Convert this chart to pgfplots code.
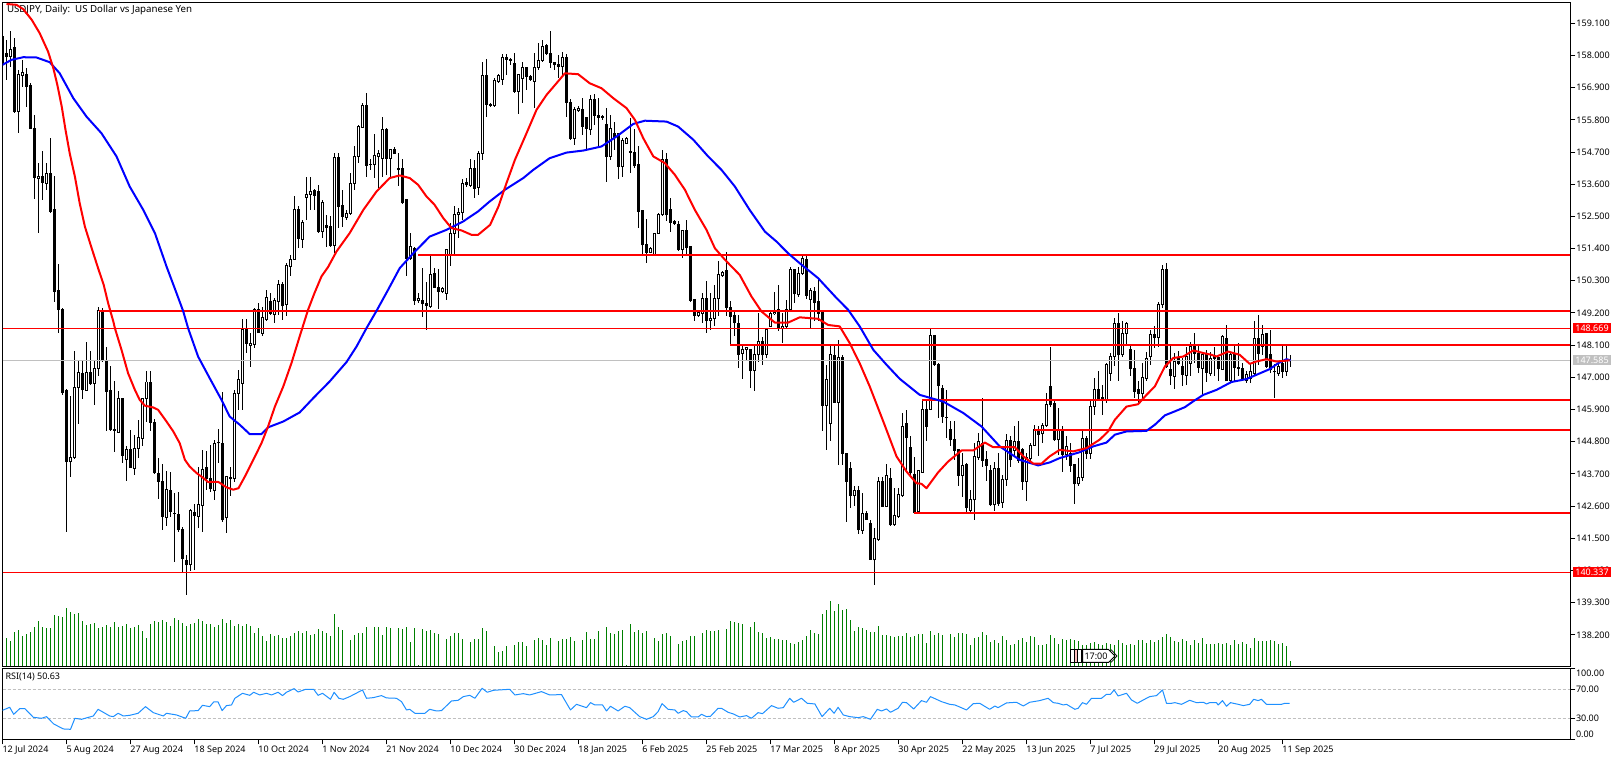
\documentclass[border=0pt]{standalone}
\usepackage{pgfplots}
\usepackage{pgfplotstable}
\usepackage{fontspec}
\setmainfont{Noto Sans}
\pgfplotsset{compat=1.18}
\definecolor{mtgreen}{HTML}{008000}
\definecolor{mtgrey}{HTML}{C0C0C0}
\definecolor{mtrsi}{HTML}{1E90FF}
\pgfplotstableread{
i o h l c
0 158.65 158.70 157.68 157.74
1 158.05 158.53 157.17 157.96
2 157.96 158.82 157.62 158.21
3 158.28 158.59 156.03 156.08
4 156.08 157.51 155.34 157.34
5 157.31 157.85 156.92 157.43
6 157.34 157.57 156.25 156.94
7 156.96 157.05 155.51 155.51
8 155.51 155.97 153.09 153.84
9 153.79 154.32 151.93 153.88
10 153.88 154.74 153.07 153.66
11 153.64 154.32 153.41 153.98
12 153.98 155.17 152.61 152.67
13 152.72 153.88 149.59 149.93
14 149.96 150.87 148.51 149.33
15 149.31 149.36 146.40 146.48
16 146.54 146.60 141.70 144.12
17 144.12 146.37 143.61 144.27
18 144.26 147.91 144.20 146.66
19 146.65 147.56 145.41 147.18
20 147.12 147.56 146.27 146.57
21 146.55 148.21 146.52 147.18
22 147.18 147.91 146.74 146.78
23 146.80 147.60 146.06 147.31
24 147.31 149.40 147.03 149.27
25 149.27 149.36 147.54 147.56
26 147.56 148.05 145.18 146.52
27 146.54 147.37 145.18 145.21
28 145.21 146.88 144.45 145.19
29 145.13 146.54 145.09 146.27
30 146.27 146.27 144.07 144.34
31 144.20 144.66 143.44 144.52
32 144.52 145.21 143.90 143.93
33 143.90 145.04 143.67 144.58
34 144.58 145.55 144.24 144.96
35 144.92 146.29 144.64 146.27
36 146.27 147.20 145.46 146.84
37 146.84 147.22 145.15 145.46
38 145.47 145.57 143.70 143.73
39 143.73 144.24 142.85 143.44
40 143.43 144.05 141.77 142.24
41 142.22 143.81 141.93 143.16
42 143.12 143.77 142.22 142.42
43 142.36 143.04 140.70 142.34
44 142.30 143.07 141.73 141.79
45 141.79 141.88 140.31 140.82
46 140.73 140.94 139.57 140.59
47 140.59 142.51 140.37 142.44
48 142.39 142.68 140.42 142.27
49 142.25 143.95 141.85 142.64
50 142.62 144.52 141.73 143.84
51 143.93 144.49 143.16 143.55
52 143.53 144.69 143.07 143.19
53 143.13 144.87 142.81 144.75
54 144.78 145.23 144.07 144.76
55 144.75 146.49 142.07 142.13
56 142.20 143.61 141.67 143.61
57 143.56 143.95 142.96 143.54
58 143.54 146.55 143.41 146.46
59 146.46 147.26 145.89 146.92
60 146.80 149.00 145.89 148.62
61 148.66 149.00 147.83 148.17
62 148.09 148.51 147.34 148.17
63 148.13 149.36 148.00 149.31
64 149.31 149.53 148.51 148.53
65 148.51 149.42 148.40 149.06
66 148.97 149.99 148.91 149.74
67 149.59 149.87 149.14 149.19
68 149.14 149.71 148.85 149.63
69 149.59 150.33 149.14 150.18
70 150.18 150.27 148.97 149.44
71 149.48 150.90 149.08 150.81
72 150.79 151.19 150.47 151.04
73 151.04 153.18 151.02 152.72
74 152.72 152.84 151.41 151.76
75 151.72 152.38 151.41 152.30
76 153.16 153.86 152.38 153.26
77 153.25 153.86 152.72 153.34
78 153.38 153.43 152.72 153.22
79 153.35 153.58 151.93 151.98
80 151.98 153.07 151.76 152.99
81 152.18 152.55 151.47 152.12
82 152.15 152.50 151.47 151.51
83 151.51 154.68 151.24 154.52
84 154.52 154.68 152.10 152.84
85 152.86 153.41 152.15 152.50
86 152.46 152.72 152.38 152.61
87 152.61 153.98 152.55 153.64
88 153.64 154.89 153.41 154.55
89 154.55 155.63 154.32 155.57
90 155.55 156.39 155.51 156.28
91 156.28 156.71 153.83 154.24
92 154.29 154.46 154.09 154.27
93 154.28 155.32 153.81 154.57
94 154.55 154.77 153.46 154.66
95 154.48 155.89 153.86 155.46
96 155.46 155.51 153.90 154.49
97 154.49 154.80 153.86 154.80
98 154.80 154.87 154.64 154.66
99 154.12 154.66 153.54 154.10
100 154.12 154.46 152.93 152.97
101 153.07 153.07 150.45 151.05
102 151.07 151.93 151.02 151.47
103 151.41 151.47 149.46 149.61
104 149.61 149.88 149.54 149.71
105 149.61 150.73 149.05 149.51
106 149.53 150.25 148.62 149.46
107 149.42 151.16 149.36 150.50
108 150.54 150.73 150.05 150.07
109 150.08 150.70 149.34 149.93
110 149.93 150.10 149.88 150.04
111 149.88 151.36 149.65 151.36
112 151.19 152.27 150.79 151.93
113 151.93 152.84 151.19 152.58
114 152.58 152.78 151.76 152.64
115 152.63 153.77 152.38 153.64
116 153.66 153.81 153.49 153.58
117 153.56 154.46 153.52 154.12
118 154.12 154.43 153.12 153.46
119 153.49 154.75 153.24 154.66
120 154.66 157.79 154.41 157.30
121 157.30 157.87 155.91 156.33
122 156.32 156.37 156.25 156.30
123 156.28 157.22 156.25 157.13
124 157.11 157.36 157.05 157.30
125 157.19 158.04 157.00 157.94
126 157.94 158.04 157.34 157.87
127 157.86 157.91 157.68 157.84
128 157.71 158.08 156.71 156.77
129 156.77 157.34 155.99 157.34
130 157.22 157.79 156.39 157.60
131 157.60 157.62 156.82 157.28
132 157.28 157.34 157.11 157.19
133 157.11 158.08 156.20 157.60
134 157.59 158.42 157.51 157.83
135 157.83 158.53 157.79 158.31
136 158.33 158.40 158.02 158.08
137 158.08 158.84 157.57 157.76
138 157.77 157.79 157.51 157.68
139 157.70 158.02 157.22 157.62
140 157.62 158.13 157.28 157.94
141 157.94 158.04 155.91 156.39
142 156.40 156.52 155.12 155.15
143 155.17 156.25 154.94 156.14
144 156.11 156.28 156.06 156.20
145 156.16 156.54 155.29 155.57
146 155.89 155.91 154.77 155.51
147 155.46 156.65 155.29 156.51
148 156.51 156.69 155.63 155.95
149 155.95 156.54 154.89 155.88
150 155.90 155.97 155.80 155.88
151 155.63 156.20 153.69 154.55
152 154.55 155.97 154.43 155.49
153 155.34 155.74 154.77 155.21
154 155.34 155.34 153.77 154.20
155 154.20 155.17 153.84 155.08
156 155.00 155.23 154.98 155.15
157 154.72 155.86 153.98 154.70
158 154.69 155.48 154.15 154.23
159 154.26 154.89 152.10 152.67
160 152.69 152.69 151.19 151.53
161 151.53 152.40 150.90 151.27
162 151.27 151.47 151.24 151.40
163 151.19 151.93 151.15 151.93
164 151.93 152.61 151.90 152.55
165 152.55 154.77 152.50 154.43
166 154.43 154.66 152.33 152.55
167 152.72 153.12 151.98 152.30
168 152.33 152.38 152.21 152.27
169 152.23 152.33 151.30 151.36
170 151.36 152.04 151.07 152.01
171 152.01 152.38 151.19 151.44
172 151.47 151.47 149.59 149.63
173 149.65 149.65 148.91 149.11
174 149.11 149.31 149.08 149.23
175 149.19 149.88 148.85 149.71
176 149.71 150.30 148.51 148.94
177 148.94 149.88 148.62 149.02
178 149.02 150.16 148.74 149.68
179 149.68 150.98 149.08 150.50
180 150.47 150.62 150.45 150.59
181 150.65 151.28 149.08 149.39
182 149.39 149.61 148.11 149.08
183 149.10 149.31 148.40 148.87
184 148.85 149.14 147.31 147.79
185 147.83 148.11 146.94 147.96
186 147.96 148.05 147.60 148.03
187 147.94 147.96 146.63 147.23
188 147.23 148.11 146.52 147.77
189 147.77 149.19 147.54 148.23
190 148.23 148.37 147.43 147.77
191 147.79 148.68 147.66 148.62
192 148.74 149.31 148.71 149.19
193 149.17 149.93 149.14 149.23
194 149.31 150.16 148.57 148.68
195 148.68 149.19 148.17 148.75
196 148.74 149.65 148.68 149.31
197 149.31 150.77 149.31 150.70
198 150.67 150.70 149.53 149.85
199 149.82 150.77 149.76 150.56
200 150.56 151.15 150.50 151.07
201 151.02 151.19 149.67 149.79
202 149.67 150.05 148.68 149.96
203 149.93 150.10 148.93 149.56
204 149.59 150.39 148.91 149.19
205 149.25 149.25 145.17 146.03
206 146.03 147.43 144.52 146.92
207 145.41 148.11 144.81 147.77
208 147.74 148.11 146.14 146.15
209 146.15 148.28 143.99 147.68
210 147.69 147.77 144.01 144.41
211 144.41 144.41 142.07 143.44
212 143.90 144.10 142.55 142.96
213 142.96 143.27 142.59 143.13
214 143.13 143.27 141.65 141.79
215 141.77 143.04 141.65 142.36
216 142.36 142.42 142.13 142.15
217 142.02 142.13 140.76 140.79
218 140.76 141.85 139.89 141.50
219 141.45 143.59 141.39 143.44
220 143.44 143.61 142.59 142.59
221 142.59 144.03 142.59 143.65
222 143.55 143.90 141.92 141.96
223 141.96 143.21 141.94 142.27
224 142.25 143.21 142.19 143.01
225 142.96 145.78 142.92 145.32
226 145.41 145.89 143.73 144.95
227 144.61 144.98 143.67 143.73
228 143.69 144.26 142.36 142.38
229 142.42 143.84 142.36 143.82
230 143.76 146.23 143.73 145.91
231 145.91 146.23 144.81 145.32
232 145.91 148.66 145.89 148.44
233 148.44 148.45 147.37 147.43
234 147.43 147.48 145.60 146.72
235 146.63 146.74 145.43 145.66
236 145.64 146.57 144.92 145.62
237 145.21 145.49 144.64 144.86
238 144.86 145.49 144.18 144.50
239 144.52 144.55 143.27 143.65
240 143.65 144.41 142.92 144.00
241 144.01 144.07 142.38 142.55
242 142.44 143.16 142.36 142.84
243 142.81 144.75 142.13 144.30
244 144.27 145.09 144.18 144.81
245 144.75 146.29 143.95 144.16
246 144.18 144.47 143.44 143.98
247 143.82 144.01 142.59 142.64
248 142.64 144.12 142.42 143.89
249 143.90 144.41 142.59 142.68
250 142.72 143.67 142.53 143.52
251 143.50 145.07 143.27 144.84
252 144.84 144.98 143.95 144.18
253 144.50 145.32 144.30 144.81
254 144.81 145.49 144.07 144.15
255 144.52 144.58 143.16 143.44
256 143.44 144.41 142.79 144.26
257 144.24 144.75 144.07 144.67
258 144.67 145.38 144.64 145.21
259 145.21 145.32 144.30 145.06
260 145.07 145.43 144.75 145.35
261 145.35 146.46 145.32 146.06
262 146.69 148.03 146.00 146.06
263 146.09 146.23 144.81 144.86
264 144.86 145.94 144.35 145.21
265 145.15 145.32 143.75 144.35
266 144.35 144.98 144.18 144.64
267 144.39 144.75 143.78 143.98
268 144.01 144.01 142.68 143.36
269 143.36 144.24 143.29 143.59
270 143.59 145.18 143.44 144.92
271 144.92 144.98 144.20 144.39
272 144.41 146.23 144.20 146.00
273 146.00 146.97 145.72 146.57
274 146.57 147.20 146.23 146.25
275 146.32 146.74 145.72 146.23
276 146.23 147.48 146.12 147.43
277 147.14 147.83 146.89 147.71
278 147.71 149.04 147.37 148.85
279 148.83 149.19 146.89 147.77
280 147.77 148.94 147.71 148.51
281 148.51 148.89 148.14 148.83
282 147.94 148.11 147.05 147.31
283 147.29 147.94 146.29 146.52
284 146.57 146.86 146.06 146.44
285 146.44 147.48 146.29 147.01
286 146.97 147.88 146.86 147.66
287 147.71 148.60 147.43 148.47
288 148.45 148.74 148.00 148.36
289 148.37 149.56 148.05 149.48
290 149.48 150.84 149.36 150.70
291 150.70 150.90 147.31 147.37
292 147.26 148.11 146.74 147.05
293 147.03 147.83 146.60 147.54
294 147.66 147.91 147.43 147.48
295 147.37 147.66 146.69 147.09
296 147.06 148.05 146.74 147.71
297 147.48 148.22 147.05 148.05
298 148.11 148.51 147.48 147.83
299 147.83 148.13 147.14 147.35
300 147.31 147.88 146.40 147.77
301 147.77 147.94 146.84 147.17
302 147.12 147.88 147.05 147.66
303 147.74 148.05 147.03 147.66
304 147.68 147.71 146.86 147.29
305 147.28 148.45 147.26 148.40
306 148.34 148.79 146.86 146.88
307 146.88 147.88 146.86 147.77
308 147.77 148.11 146.86 147.34
309 147.32 148.17 147.03 147.30
310 147.31 147.48 146.86 146.91
311 146.89 147.20 146.80 147.09
312 146.97 147.48 146.80 147.20
313 147.14 148.94 147.05 148.34
314 148.34 149.13 147.43 147.83
315 148.05 148.79 147.77 148.47
316 148.49 148.53 147.31 147.37
317 147.77 148.62 147.14 147.26
318 147.20 147.45 146.31 147.19
319 147.14 147.54 147.03 147.37
320 147.48 148.11 146.97 147.20
321 147.20 148.11 147.05 147.60
322 147.59 147.77 147.34 147.585
}\candles
\pgfplotstableread{
i v
0 30
1 28
2 25
3 34
4 36
5 30
6 32
7 34
8 39
9 45
10 39
11 38
12 38
13 51
14 50
15 49
16 58
17 54
18 52
19 53
20 45
21 41
22 42
23 43
24 38
25 39
26 41
27 39
28 44
29 39
30 40
31 42
32 38
33 39
34 41
35 35
36 28
37 42
38 45
39 44
40 46
41 44
42 40
43 48
44 46
45 43
46 40
47 42
48 43
49 47
50 45
51 42
52 42
53 39
54 41
55 47
56 43
57 46
58 40
59 42
60 40
61 42
62 40
63 33
64 38
65 30
66 25
67 32
68 30
69 31
70 28
71 28
72 30
73 33
74 35
75 33
76 35
77 31
78 32
79 37
80 35
81 33
82 30
83 52
84 39
85 36
86 0
87 26
88 31
89 33
90 33
91 39
92 0
93 39
94 39
95 31
96 39
97 38
98 0
99 38
100 37
101 39
102 24
103 38
104 1
105 37
106 35
107 36
108 33
109 32
110 0
111 27
112 30
113 33
114 33
115 27
116 0
117 24
118 27
119 27
120 38
121 35
122 0
123 20
124 14
125 15
126 20
127 0
128 21
129 24
130 24
131 20
132 0
133 26
134 28
135 26
136 21
137 28
138 0
139 25
140 27
141 27
142 29
143 25
144 0
145 26
146 34
147 27
148 27
149 35
150 0
151 39
152 33
153 32
154 35
155 36
156 1
157 42
158 34
159 36
160 33
161 35
162 0
163 28
164 25
165 32
166 33
167 30
168 0
169 22
170 25
171 26
172 30
173 30
174 0
175 33
176 36
177 35
178 35
179 36
180 0
181 37
182 45
183 44
184 43
185 42
186 0
187 39
188 44
189 34
190 33
191 28
192 29
193 27
194 27
195 26
196 26
197 23
198 22
199 24
200 26
201 30
202 36
203 33
204 32
205 52
206 56
207 65
208 55
209 62
210 56
211 57
212 46
213 35
214 39
215 38
216 36
217 34
218 34
219 40
220 31
221 31
222 30
223 29
224 30
225 30
226 33
227 29
228 30
229 32
230 32
231 23
232 35
233 31
234 33
235 31
236 0
237 32
238 29
239 33
240 33
241 32
242 21
243 28
244 29
245 34
246 31
247 24
248 26
249 23
250 30
251 26
252 21
253 22
254 26
255 28
256 24
257 30
258 29
259 21
260 21
261 22
262 31
263 28
264 22
265 27
266 26
267 27
268 26
269 25
270 21
271 21
272 23
273 24
274 22
275 21
276 23
277 22
278 21
279 26
280 23
281 21
282 22
283 21
284 26
285 26
286 23
287 26
288 24
289 26
290 29
291 32
292 29
293 25
294 24
295 27
296 25
297 21
298 26
299 23
300 28
301 22
302 22
303 22
304 23
305 22
306 23
307 21
308 26
309 22
310 24
311 22
312 18
313 28
314 25
315 25
316 25
317 26
318 25
319 22
320 23
321 20
322 5
}\volumes
\tikzset{lab/.style={font=\fontsize{9}{10}\selectfont, inner sep=0pt, outer sep=0pt, anchor=west},
  tag/.style={font=\fontsize{9}{10}\selectfont, inner sep=0pt, outer sep=0pt, text=white, minimum width=38pt, minimum height=10pt, anchor=west, align=center}}
\pgfplotsset{candle/.style={draw=none,no markers,forget plot}}
\begin{document}
\begin{tikzpicture}[x=1pt,y=1pt]
\useasboundingbox (0,0) rectangle (1623,760);
\fill[white] (0,0) rectangle (1623,760);
% title sits under the moving average
\node[lab,font=\fontsize{9.7}{11}\selectfont] at (7,750) {USDJPY, Daily:~~US Dollar vs Japanese Yen};
% volume
\begin{axis}[at={(2.5pt,93.5pt)},anchor=south west,scale only axis,width=1568pt,height=664pt,
  xmin=0,xmax=392,ymin=0,ymax=664,axis lines=none]
\addplot[ycomb,mtgreen,line width=1pt,mark=none] table[x=i,y=v] {\volumes};
\end{axis}
% countdown label
\draw[black,line width=1pt,fill=white] (1070.5,110.5) rectangle (1074.5,97.5);
\draw[black,line width=1pt,fill=red!25] (1074.5,110.5) rectangle (1077.5,97.5);
\draw[black,line width=1pt,fill=white] (1077.5,110.5) rectangle (1081.5,97.5);
\draw[black,line width=1pt,fill=white] (1082.5,110.5) -- (1108.5,110.5) -- (1115,104) -- (1108.5,97.5) -- (1082.5,97.5) -- cycle;
\draw[black,line width=.7pt] (1111,110.5) -- (1117,104) -- (1111,97.5);
\node[font=\fontsize{9}{10}\selectfont,inner sep=0pt] at (1096,104) {17:00};
% price panel
\begin{axis}[at={(2.5pt,93.5pt)},anchor=south west,scale only axis,width=1568pt,height=664pt,
  xmin=0,xmax=392,ymin=137.117,ymax=159.81,
  axis line style={black,line width=1pt},
  xtick=\empty,
  ytick={138.2,139.3,140.4,141.5,142.6,143.7,144.8,145.9,147.0,148.1,149.2,150.3,151.4,152.5,153.6,154.7,155.8,156.9,158.0,159.1},
  yticklabels={138.200,139.300,140.400,141.500,142.600,143.700,144.800,145.900,147.000,148.100,149.200,150.300,151.400,152.500,153.600,154.700,155.800,156.900,158.000,159.100},
  ytick pos=right,yticklabel pos=right,tick align=outside,major tick length=5pt,
  tick style={black,line width=1pt},
  yticklabel style={font=\fontsize{9}{10}\selectfont,inner sep=0pt,outer sep=0pt,anchor=west,xshift=1pt}]
\addplot[candle,error bars/.cd,y dir=both,y explicit,error mark=none,error mark options={draw=none,mark size=0pt},
  error bar style={black,line width=1pt,line cap=butt}]
  table[x=i,y=o,y error plus expr=\thisrow{h}-\thisrow{o},y error minus expr=\thisrow{o}-\thisrow{l}] {\candles};
\addplot[candle,error bars/.cd,y dir=plus,y explicit,error mark=none,error mark options={draw=none,mark size=0pt},
  error bar style={black,line width=3pt,line cap=butt}]
  table[x=i,y expr={min(\thisrow{o},\thisrow{c})-0.017},y error plus expr={abs(\thisrow{c}-\thisrow{o})+0.034}] {\candles};
\addplot[candle,error bars/.cd,y dir=plus,y explicit,error mark=none,error mark options={draw=none,mark size=0pt},
  error bar style={white,line width=1pt,line cap=butt}]
  table[x=i,y expr={\thisrow{o}+0.017},y error plus expr={max(\thisrow{c}-\thisrow{o}-0.034,0)}] {\candles};
% level lines
\addplot[mtgrey,line width=1pt] coordinates {(0,147.585) (392,147.585)};
\addplot[red,line width=1pt] coordinates {(0,148.669) (392,148.669)};
\addplot[red,line width=1pt] coordinates {(0,140.337) (392,140.337)};
\addplot[red,line width=2pt] coordinates {(104,151.18) (392,151.18)};
\addplot[red,line width=2pt] coordinates {(24.1,149.27) (392,149.27)};
\addplot[red,line width=2pt] coordinates {(182,148.105) (392,148.105)};
\addplot[red,line width=2pt] coordinates {(230,146.225) (392,146.225)};
\addplot[red,line width=2pt] coordinates {(258,145.2) (392,145.2)};
\addplot[red,line width=2pt] coordinates {(228,142.36) (392,142.36)};
% moving averages
\addplot[blue,line width=2pt,line join=round] coordinates {
(0,157.68)(2.25,157.85)(5.2,157.94)(8.5,157.93)(11.8,157.77)(14.3,157.39)(17.7,156.54)(21,155.91)(24.75,155.34)(28.5,154.55)(31.8,153.52)(35.2,152.72)(38.1,151.93)(41,150.79)(43.5,149.88)(45.2,149.25)(46.4,148.68)(48.9,147.71)(51.8,146.97)(54.75,146.23)(56.8,145.66)(59.3,145.38)(61.8,145.06)(64.75,145.06)(66.4,145.29)(70.2,145.49)(74.3,145.80)(77.7,146.29)(81.8,146.86)(86,147.52)(88.5,148.05)(91,148.68)(93.5,149.27)(96.4,149.99)(99.3,150.73)(102.7,151.24)(106.8,151.81)(111,152.04)(115.2,152.33)(118.9,152.67)(121.8,153.01)(125.6,153.41)(130.2,153.81)(132.7,154.09)(136.8,154.49)(141,154.68)(145.2,154.75)(149.75,154.89)(153.5,155.23)(157.7,155.66)(160.6,155.77)(166,155.74)(168.9,155.57)(172.7,155.12)(176.4,154.55)(179.75,154.09)(183.1,153.52)(186.8,152.72)(190.6,151.98)(193.5,151.64)(196.4,151.24)(199.3,150.90)(203.9,150.39)(208.5,149.71)(211.4,149.31)(214.3,148.74)(217.7,147.94)(221,147.43)(224.3,146.95)(229.3,146.40)(235.2,146.17)(240.2,145.78)(244.75,145.32)(249.3,144.64)(254.3,144.18)(258.9,143.99)(261.8,144.09)(264.3,144.24)(269.3,144.44)(272.7,144.64)(276,144.77)(278.1,145.04)(281,145.15)(286,145.17)(288.1,145.38)(290.6,145.70)(293.5,145.86)(295.6,145.98)(297.7,146.18)(300.2,146.40)(303.5,146.57)(307.25,146.84)(311,146.94)(313.9,147.11)(316.8,147.28)(318.9,147.48)(321,147.62)(322,147.58)};
\addplot[red,line width=2pt,line join=round] coordinates {
(1,159.76)(3.5,159.73)(5.2,159.58)(7.3,159.22)(9.3,158.76)(11.4,158.13)(12.7,157.57)(13.7,157.00)(14.8,156.26)(15.75,155.46)(16.8,154.66)(18.1,153.86)(19.3,152.95)(20.6,152.15)(22.3,151.41)(23.9,150.73)(25.3,150.16)(26.4,149.54)(27.7,148.91)(28.1,148.68)(29.75,147.94)(31.4,147.14)(33.1,146.57)(34.3,146.23)(35.6,146.03)(37.7,145.97)(38.9,145.89)(41,145.49)(42.7,145.15)(44.3,144.75)(45.6,144.18)(46.8,143.95)(48.5,143.73)(50.2,143.56)(51.4,143.42)(53.9,143.43)(56,143.24)(57.7,143.16)(59,143.21)(60.6,143.61)(62.7,144.18)(64.75,144.75)(66.4,145.32)(68.1,146.00)(70.2,146.69)(72.25,147.49)(74.3,148.40)(76.4,149.31)(78,149.88)(79.75,150.45)(81.4,150.77)(83.5,151.30)(86.8,151.93)(90.2,152.72)(93.5,153.35)(96.8,153.81)(99.3,153.90)(101.8,153.81)(103.9,153.58)(106,153.18)(108,152.90)(110.2,152.44)(112.25,152.10)(114.75,152.02)(117.25,151.87)(118.9,151.87)(121.9,152.21)(124,152.84)(126,153.64)(128.1,154.43)(131,155.34)(133.5,156.14)(136,156.65)(138.5,157.05)(140.6,157.39)(143.9,157.36)(146.8,157.05)(149.75,156.88)(152.7,156.54)(156,156.20)(158.1,155.80)(160.2,155.17)(162.7,154.55)(165.6,154.32)(168.1,153.92)(170.6,153.41)(173.1,152.72)(176,152.04)(178.1,151.41)(180.6,151.02)(184.3,150.50)(187.25,149.76)(189.75,149.25)(193.1,148.87)(196.4,148.87)(199.3,149.05)(203.9,149.00)(206.4,148.79)(209.3,148.74)(211.8,148.17)(214.3,147.48)(216.8,146.69)(220.2,145.49)(223.5,144.30)(226,143.78)(228.5,143.38)(229.75,143.36)(231,143.21)(233.9,143.75)(236.4,144.12)(239.75,144.50)(242.7,144.50)(245.6,144.77)(247.7,144.61)(253.1,144.61)(255.2,144.30)(257.7,144.05)(259.75,144.05)(261.8,144.30)(264.3,144.52)(267.7,144.47)(271,144.58)(274.3,144.87)(276.4,145.15)(278.1,145.55)(281,146.00)(283.9,146.08)(286,146.40)(288.1,146.69)(290.6,147.37)(292.7,147.66)(295.2,147.71)(297.7,147.92)(300.2,147.83)(302.25,147.77)(303.5,147.71)(306.4,147.88)(309.3,147.77)(311.8,147.46)(313.5,147.54)(316,147.62)(318.5,147.54)(321.8,147.58)};
\end{axis}
% RSI panel
\begin{axis}[at={(2.5pt,20.5pt)},anchor=south west,scale only axis,width=1568pt,height=71pt,
  xmin=0,xmax=392,ymin=0.76,ymax=98.7,
  axis line style={black,line width=1pt},
  xtick={0,16,32,48,64,80,96,112,128,144,160,176,192,208,224,240,256,272,288,304,320},
  xticklabels={12 Jul 2024,5 Aug 2024,27 Aug 2024,18 Sep 2024,10 Oct 2024,1 Nov 2024,21 Nov 2024,10 Dec 2024,30 Dec 2024,18 Jan 2025,6 Feb 2025,25 Feb 2025,17 Mar 2025,8 Apr 2025,30 Apr 2025,22 May 2025,13 Jun 2025,7 Jul 2025,29 Jul 2025,20 Aug 2025,11 Sep 2025},
  xtick pos=bottom,ytick={0.76,30,70,98.7},yticklabels={},ytick pos=right,
  tick align=outside,major tick length=5pt,tick style={black,line width=1pt},
  xticklabel style={font=\fontsize{9}{10}\selectfont,inner sep=0pt,outer sep=0pt,anchor=north west,yshift=-1pt}]
\addplot[mtgrey,line width=1pt,dash pattern=on 3pt off 2pt] coordinates {(0,70) (392,70)};
\addplot[mtgrey,line width=1pt,dash pattern=on 3pt off 2pt] coordinates {(0,30) (392,30)};
\addplot[mtrsi,line width=1pt,line join=round] coordinates {
(0,41.0)(1.8,45.2)(2.8,35.5)(4.3,43.3)(5.6,43.3)(7.7,31.4)(9.75,30)(11,32.3)(12.8,22.2)(15.2,15.3)(17,14.8)(18.1,30)(19.75,28.6)(22.7,33.2)(23.9,42.4)(26.8,33.2)(27.7,32.3)(28.9,36.9)(30.2,33.2)(31.8,34.1)(33.9,36.9)(35.75,46.1)(37.7,37.8)(40.2,33.2)(41,36.9)(43.5,34.6)(45.8,30)(46.8,40.1)(48.9,40.6)(50,47.9)(51.8,46.1)(52.8,52.5)(53.9,52.5)(54.9,40.6)(56,47.5)(57.25,48.4)(58.1,57.6)(60,64.5)(61.8,61.7)(62.8,65.9)(64.3,62.2)(66,64.5)(67.25,62.2)(68.9,65.9)(70,61.3)(71,65.9)(72.9,70.9)(73.9,66.3)(75.8,70)(77.8,70)(78.9,61.7)(80,64.5)(82,56.2)(82.9,65.9)(84.1,57.6)(85.2,56.2)(86.8,59.9)(90,69.1)(91,57.6)(92.7,58.5)(94.75,61.3)(96,58.1)(98.5,57.6)(99.75,53)(101,41.5)(101.8,42.4)(103.1,36.9)(105.6,36.9)(106.8,42.4)(108.5,40.1)(109.75,40.6)(112.25,53.9)(113.9,54.8)(115.2,59.9)(116.8,61.7)(118.1,57.6)(119.9,71.4)(121.2,65.9)(122.7,68.6)(126.8,70)(128.1,62.2)(130.2,64)(131.8,62.2)(134.75,66.8)(136.8,62.2)(139.75,62.7)(142,41.5)(143.5,49.3)(146,44.7)(147,51.6)(148.1,48.4)(150,48.4)(151,40.1)(152,46.6)(153.9,40.1)(155.6,46.6)(156.8,44.7)(159.3,32.3)(161,28.6)(162.7,32.3)(163.9,39.2)(164.9,50.2)(166.4,42.4)(168.1,41.5)(168.9,36.9)(170.2,40.6)(171,39.2)(172.25,31.8)(173.9,31.8)(174.75,35.5)(176,32.3)(177,32.8)(178.9,43.8)(179.75,43.8)(181.4,38.3)(182.7,36)(184.3,31.8)(186,33.7)(187.25,30)(188.9,37.8)(190,36.4)(192.25,47.5)(193.9,43.8)(195.2,44.7)(196.8,57.6)(197.8,52.1)(199.75,57.6)(201.2,50.7)(203.1,49.8)(204.9,32.3)(206.8,43.8)(207.9,36.9)(208.9,45.2)(210.2,34.6)(211.8,32.3)(213.9,30.9)(215.2,32.3)(217,28.6)(218.7,42.4)(219.75,40.1)(221,42.9)(222,38.3)(223.9,43.8)(225,52.1)(226,51.6)(227.8,42.9)(229.75,54.4)(231,52.1)(232,59.9)(234.75,53)(236.8,49.3)(238.1,48.4)(239.3,45.6)(241,41.5)(242.7,50.2)(244.3,50.7)(246.8,42.4)(248.1,46.9)(248.9,44.7)(251,51.2)(253.5,52.1)(255.2,47)(256.8,52.1)(259.3,54.4)(261.4,57.6)(262.7,51.6)(263.9,50.7)(265.2,48.4)(266,49.3)(268.1,42.4)(268.9,43.8)(270,51.6)(271,49.3)(272.25,57.6)(274.75,57.6)(276,63.1)(277,63.1)(277.9,69.1)(278.9,60.8)(281,64.5)(282.25,55.3)(283.7,50.7)(285.2,55.3)(286.8,59.9)(288.5,61.3)(290,69.1)(291,50.7)(292.25,50.7)(293.1,51.6)(294.75,49.3)(296.8,54.8)(298.5,51.6)(300.2,52.1)(301,49.8)(301.8,51.6)(303.5,51.6)(303.9,48.4)(305,54.4)(306,46.6)(307,51.6)(308.9,49.3)(310.2,47.5)(311.8,49.3)(312.8,56.2)(313.9,54.4)(314.75,56.2)(316,49.3)(319.75,49.3)(320.6,50.7)(321.8,50.63)};
\end{axis}
\node[lab] at (5.5,83) {RSI(14) 50.63};
\node[lab] at (1576,87) {100.00};
\node[lab] at (1576,70.7) {70.00};
\node[lab] at (1576,41.7) {30.00};
\node[lab] at (1576,26) {0.00};
% price tags on the scale
\node[tag,fill=red] at (1573,431.5) {148.669};
\node[tag,fill=mtgrey] at (1573,399.7) {147.585};
\node[tag,fill=red] at (1573,187.7) {140.337};
\end{tikzpicture}
\end{document}
